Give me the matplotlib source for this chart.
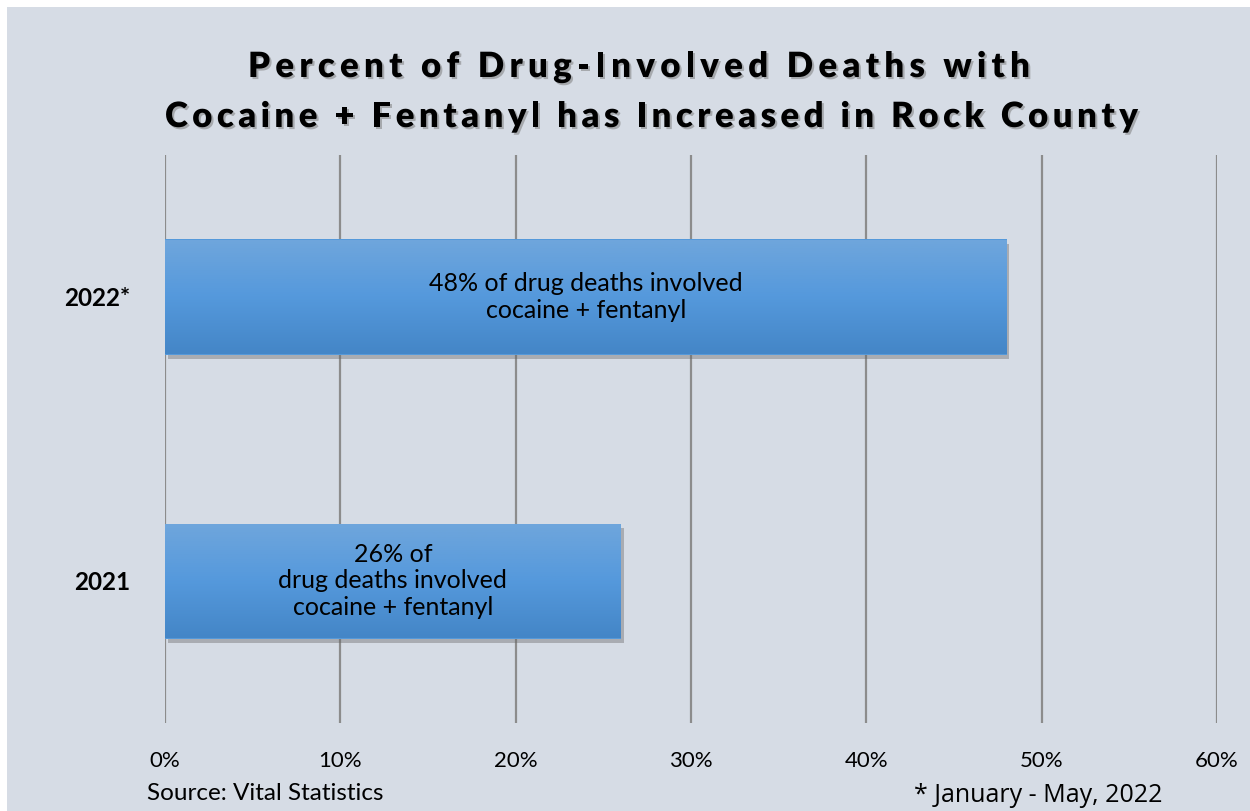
import numpy as np
import matplotlib.pyplot as plt
import matplotlib.patheffects as pe
from matplotlib.patches import Rectangle
from matplotlib.colors import LinearSegmentedColormap

years = ["2021", "2022*"]
pct = [26, 48]
bar_text = ["26% of\ndrug deaths involved\ncocaine + fentanyl",
            "48% of drug deaths involved\ncocaine + fentanyl"]
xticks = [0, 10, 20, 30, 40, 50, 60]
title_lines = ["Percent of Drug-Involved Deaths with",
               "Cocaine + Fentanyl has Increased in Rock County"]

bg = "#d6dce5"
plt.rcParams['font.family'] = ['Lato', 'DejaVu Sans']

fig = plt.figure(figsize=(12.5, 8.11), dpi=100)
fig.patch.set_facecolor("white")
# gray panel, thin white margin top/left
fig.add_artist(Rectangle((7/1250, 0), 1 - 7/1250, 1 - 7/811, transform=fig.transFigure,
                         facecolor=bg, edgecolor="none", zorder=-10))

ax = fig.add_axes([165/1250, 1 - 723/811, (1217-165)/1250, (723-155)/811])
ax.set_facecolor("none")
ax.set_xlim(0, 60)
ax.set_ylim(-0.5, 1.5)

for t in xticks:
    ax.axvline(t, color="#8c8c8c", lw=1.6, zorder=1)

h = 115/284
grad = np.linspace(0, 1, 100).reshape(-1, 1)
cmap = LinearSegmentedColormap.from_list("b", ["#4486c7", "#5599dc", "#6fa6dc"])
bars = ax.barh(range(len(years)), pct, height=h, color="#5599da", zorder=3,
               path_effects=[pe.SimplePatchShadow(offset=(2, -3), shadow_rgbFace="#666666", alpha=0.4),
                             pe.Normal()])
for b, txt in zip(bars, bar_text):
    x0, y0 = b.get_x(), b.get_y()
    im = ax.imshow(grad, cmap=cmap, aspect="auto", origin="lower",
                   extent=[x0, x0 + b.get_width(), y0, y0 + b.get_height()], zorder=4)
    im.set_clip_path(b)
    ax.text(x0 + b.get_width() / 2, y0 + b.get_height() / 2, txt, ha="center", va="center",
            fontsize=18, linespacing=1.2, color="black", zorder=5)

ax.set_yticks(range(len(years)))
ax.set_yticklabels(years, fontsize=17.5, fontweight="bold")
ax.set_xticks(xticks)
ax.set_xticklabels([f"{t}%" for t in xticks], fontsize=16)
ax.tick_params(length=0)
ax.tick_params(axis="x", pad=20)
ax.tick_params(axis="y", pad=25)
for s in ax.spines.values():
    s.set_visible(False)

# title with letter spacing, drawn char by char to fit the reference widths
renderer = fig.canvas.get_renderer()
title_fx = [pe.withSimplePatchShadow(offset=(1.5, -1.5), shadow_rgbFace="#777777", alpha=0.5)]
fs = 25

def text_w(s):
    t = fig.text(0, 0, s, fontsize=fs, fontweight="heavy")
    w = t.get_window_extent(renderer).width
    t.remove()
    return w

space_w = text_w("a a") - 2 * text_w("a")
for line, x_left, x_right, yb in zip(title_lines, [248, 165], [1030, 1138], [77, 127]):
    widths = [space_w if ch == " " else text_w(ch) for ch in line]
    track = ((x_right - x_left) - sum(widths)) / (len(line) - 1)
    x = x_left
    for ch, w in zip(line, widths):
        if ch != " ":
            fig.text(x / 1250, 1 - yb / 811, ch, fontsize=fs, fontweight="heavy",
                     ha="left", va="baseline", path_effects=title_fx)
        x += w + track

fig.text(147/1250, 1 - 793/811, "Source: Vital Statistics", ha="left", va="center", fontsize=17.5)
fig.text(1163/1250, 1 - 796/811, "* January - May, 2022", ha="right", va="center", fontsize=18,
         family=["Open Sans", "DejaVu Sans"])

fig.savefig("out.png", dpi=100)
